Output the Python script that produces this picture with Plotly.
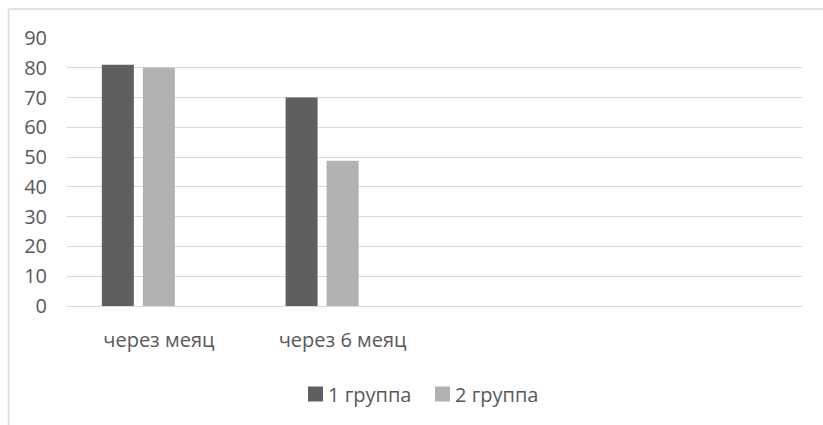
import plotly.graph_objects as go

# Categories along the x axis (the last two slots are left empty)
categories = ["через меяц", "через 6 меяц", "", " "]
group1 = [81, 70, None, None]
group2 = [80, 48.8, None, None]
group3 = [None, None, None, None]  # unnamed empty series that still takes a slot
series_names = ["1 группа", "2 группа"]
series_colors = ["#5f5f5f", "#b2b2b2"]
y_ticks = [0, 10, 20, 30, 40, 50, 60, 70, 80, 90]

FONT = "Open Sans"
FS = 20
TEXT = "#595959"
GRID = "#d9d9d9"

fig = go.Figure()
fig.add_trace(go.Bar(x=categories, y=group1, name=series_names[0],
                     marker=dict(color=series_colors[0], line=dict(width=0))))
fig.add_trace(go.Bar(x=categories, y=group2, name=series_names[1],
                     marker=dict(color=series_colors[1], line=dict(width=0))))
fig.add_trace(go.Bar(x=categories, y=group3, name="",
                     marker=dict(color="#ffffff", line=dict(width=0))))

W, H = 823, 425
L, R, T, B = 67, 21, 38, 119
pw, ph = W - L - R, H - T - B

def px_x(p):
    return (p - L) / pw

def px_y(p):
    return 1 - (p - T) / ph

# Legend: coloured squares followed by the series names
legend_shapes, legend_notes = [], []
legend_y = 394
for name, color, sx in zip(series_names, series_colors, [308, 435]):
    legend_shapes.append(dict(type="rect", xref="paper", yref="paper",
                              x0=px_x(sx), x1=px_x(sx + 15),
                              y0=px_y(legend_y + 7.5), y1=px_y(legend_y - 7.5),
                              fillcolor=color, line=dict(width=0)))
    legend_notes.append(dict(xref="paper", yref="paper", x=px_x(sx + 18), y=px_y(legend_y),
                             xanchor="left", yanchor="middle", text=name, showarrow=False,
                             font=dict(family=FONT, size=FS, color=TEXT)))

fig.update_layout(
    width=W, height=H,
    margin=dict(l=L, r=R, t=T, b=B, autoexpand=False),
    paper_bgcolor="white", plot_bgcolor="white",
    barmode="group", bargap=0.33, bargroupgap=0.22,
    font=dict(family=FONT, size=FS, color=TEXT),
    showlegend=False,
    xaxis=dict(type="category", categoryorder="array", categoryarray=categories,
               range=[-0.5, 3.5], showgrid=False, zeroline=False,
               showline=False, ticks="outside", ticklen=16,
               tickcolor="rgba(0,0,0,0)", tickfont=dict(family=FONT, size=FS, color=TEXT),
               automargin=False, fixedrange=True),
    yaxis=dict(range=[0, 90], tickvals=y_ticks, showgrid=True, gridcolor=GRID,
               gridwidth=1, zeroline=True, zerolinecolor=GRID, zerolinewidth=1,
               showline=False, ticks="", ticklabelstandoff=19,
               tickfont=dict(family=FONT, size=FS, color=TEXT),
               automargin=False, fixedrange=True),
    shapes=[
        dict(type="line", xref="paper", yref="paper",
             x0=px_x(8.5), x1=px_x(830), y0=px_y(9), y1=px_y(9),
             line=dict(color=GRID, width=1.5)),
        dict(type="line", xref="paper", yref="paper",
             x0=px_x(8.5), x1=px_x(8.5), y0=px_y(9), y1=px_y(440),
             line=dict(color=GRID, width=1.5)),
    ] + legend_shapes,
    annotations=legend_notes,
)

fig.write_html("out.html")
